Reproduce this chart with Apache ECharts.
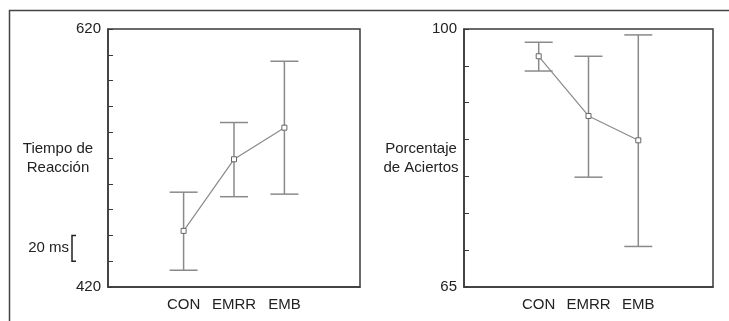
<!doctype html>
<html>
    <head>
        <meta charset="utf-8">
        <title>Tiempo de Reacción / Porcentaje de Aciertos</title>
        <style>
            html, body { margin: 0; padding: 0; background: #fff; }
            #main { width: 729px; height: 321px; }
        </style>
    </head>
    <body>
        <div id="main"></div>
        <script src="https://cdn.jsdelivr.net/npm/echarts@6/dist/echarts.min.js"></script>
        <script>
            var chart = echarts.init(document.getElementById('main'));

            // empty slots at both ends keep the three groups in the middle of the box
            var categories = ['', 'CON', 'EMRR', 'EMB', ''];
            var groups = ['CON', 'EMRR', 'EMB'];

            // tiempo de reaccion (ms)
            var rtMean = [463.5, 519, 543.5];
            var rtLow = [433, 490, 492];
            var rtHigh = [493.5, 547.5, 595];

            // porcentaje de aciertos
            var accMean = [96.3, 88.2, 84.9];
            var accLow = [94.3, 79.9, 70.5];
            var accHigh = [98.2, 96.3, 99.2];

            var font = 'Liberation Sans, Arial, sans-serif';
            var axisColor = '#3a3a3a';
            var dataColor = '#8a8a8a';

            function pairs(vals) {
                return groups.map(function (g, i) { return [g, vals[i]]; });
            }
            function bars(lo, hi) {
                return groups.map(function (g, i) { return [g, lo[i], hi[i]]; });
            }

            function errorBar(params, api) {
                var x = api.value(0);
                var lo = api.coord([x, api.value(1)]);
                var hi = api.coord([x, api.value(2)]);
                var half = 14;
                var style = { stroke: dataColor, lineWidth: 1.5 };
                return {
                    type: 'group',
                    children: [
                        { type: 'line', shape: { x1: lo[0], y1: lo[1], x2: hi[0], y2: hi[1] }, style: style },
                        { type: 'line', shape: { x1: hi[0] - half, y1: hi[1], x2: hi[0] + half, y2: hi[1] }, style: style },
                        { type: 'line', shape: { x1: lo[0] - half, y1: lo[1], x2: lo[0] + half, y2: lo[1] }, style: style }
                    ]
                };
            }

            function yAxis(idx, min, max, step, name, gap) {
                return {
                    type: 'value',
                    gridIndex: idx,
                    min: min,
                    max: max,
                    interval: step,
                    name: name,
                    nameLocation: 'middle',
                    nameRotate: 0,
                    nameGap: gap,
                    nameMoveOverlap: false,
                    nameTextStyle: { color: '#222', fontSize: 15, fontFamily: font, align: 'center', lineHeight: 19, padding: [0, 0, 6, 0] },
                    splitLine: { show: false },
                    axisLine: { show: true, lineStyle: { color: axisColor, width: 1.5 } },
                    axisTick: { show: true, inside: true, length: 5, lineStyle: { color: axisColor } },
                    axisLabel: {
                        color: '#222', fontSize: 15, fontFamily: font, margin: 7,
                        formatter: function (v) { return (v === min || v === max) ? String(v) : ''; }
                    }
                };
            }

            function xAxis(idx) {
                return {
                    type: 'category',
                    gridIndex: idx,
                    data: categories,
                    boundaryGap: true,
                    axisLine: { show: true, lineStyle: { color: axisColor, width: 1.5 } },
                    axisTick: { show: false },
                    axisLabel: { color: '#222', fontSize: 15, fontFamily: font, margin: 10, interval: 0 }
                };
            }

            chart.setOption({
                animation: false,
                grid: [
                    { left: 108, top: 29, width: 252, height: 258, show: true, borderColor: axisColor, borderWidth: 1.5 },
                    { left: 464, top: 29, width: 249, height: 258, show: true, borderColor: axisColor, borderWidth: 1.5 }
                ],
                xAxis: [xAxis(0), xAxis(1)],
                yAxis: [
                    yAxis(0, 420, 620, 20, 'Tiempo de\nReacción', 50),
                    yAxis(1, 65, 100, 5, 'Porcentaje\nde Aciertos', 43)
                ],
                series: [
                    { type: 'custom', xAxisIndex: 0, yAxisIndex: 0, renderItem: errorBar, encode: { x: 0, y: [1, 2] }, data: bars(rtLow, rtHigh), z: 1 },
                    { type: 'line', xAxisIndex: 0, yAxisIndex: 0, data: pairs(rtMean), symbol: 'rect', symbolSize: 5,
                      lineStyle: { color: dataColor, width: 1.2 }, itemStyle: { color: '#fff', borderColor: '#666', borderWidth: 1 }, z: 3 },
                    { type: 'custom', xAxisIndex: 1, yAxisIndex: 1, renderItem: errorBar, encode: { x: 0, y: [1, 2] }, data: bars(accLow, accHigh), z: 1 },
                    { type: 'line', xAxisIndex: 1, yAxisIndex: 1, data: pairs(accMean), symbol: 'rect', symbolSize: 5,
                      lineStyle: { color: dataColor, width: 1.2 }, itemStyle: { color: '#fff', borderColor: '#666', borderWidth: 1 }, z: 3 }
                ]
            });

            // 20 ms scale bracket, placed with the reaction-time axis
            var yTop = chart.convertToPixel({ yAxisIndex: 0 }, 460);
            var yBot = chart.convertToPixel({ yAxisIndex: 0 }, 440);
            var bx = 72;
            chart.setOption({
                graphic: [
                    { type: 'polyline', shape: { points: [[9.5, 321], [9.5, 10.5], [729, 10.5]] }, style: { stroke: '#444', lineWidth: 1.5, fill: null } },
                    { type: 'polyline', shape: { points: [[bx + 4, yTop], [bx, yTop], [bx, yBot], [bx + 4, yBot]] }, style: { stroke: '#222', lineWidth: 1.5, fill: null } },
                    { type: 'text', x: bx - 3, y: (yTop + yBot) / 2, style: { text: '20 ms', fill: '#222', font: '15px ' + font, textAlign: 'right', textVerticalAlign: 'middle' } }
                ]
            });
        </script>
    </body>
</html>
